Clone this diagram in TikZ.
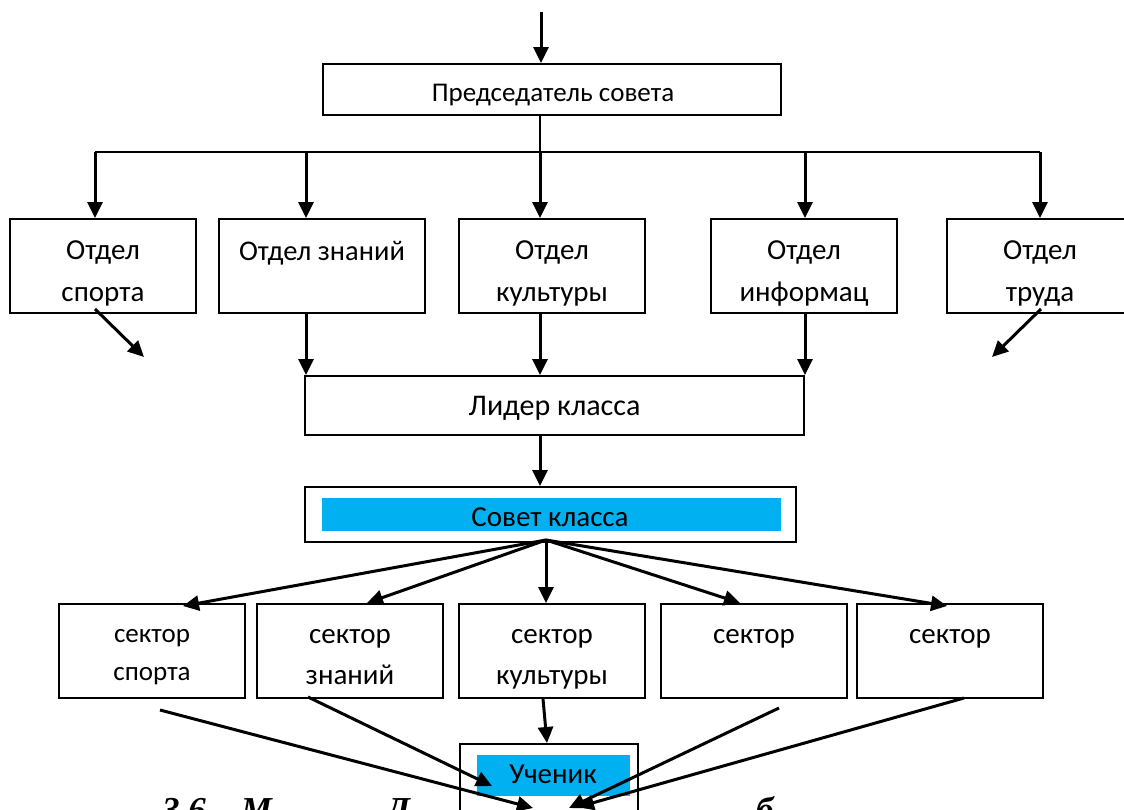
\documentclass[tikz,border=0pt]{standalone}
\usepackage{fontspec}
\setmainfont{Carlito}
\newfontfamily\capfont{Liberation Serif}
\usetikzlibrary{arrows.meta}
\definecolor{skyblue}{HTML}{00B0F0}
\tikzset{
  box/.style={draw, line width=2pt, fill=white, inner sep=0pt},
  fillbox/.style={fill=skyblue, inner sep=0pt},
  txt/.style={inner sep=0pt, anchor=base, font=\fontsize{29}{34}\selectfont},
  arr/.style={line width=3pt, arrows={-Triangle[length=16pt,width=15pt]}},
  link/.style={line width=2.8pt},
  captxt/.style={inner sep=0pt, anchor=base west, font=\capfont\bfseries\itshape\fontsize{35}{40}\selectfont}
}

\begin{document}
\begin{tikzpicture}[x=1pt,y=-1pt]
        \useasboundingbox (0,0) rectangle (1124,809);
        \clip (0,0) rectangle (1124,809);
        % Caption (only its top shows)
        \node[captxt] (capA) at (162,821) {3.6 – М};
        \node[captxt] (capB) at (386,821) {Д};
        \node[captxt] (capC) at (756,821) {б};
        % Chairman
        \node[box, minimum width=458, minimum height=51] (chair) at (552,89.5) {};
        \node[txt, font=\fontsize{27}{32}\selectfont] (chairT) at (553,101) {Председатель совета};
        \coordinate (topIn) at (541,12);
        \draw[arr] (topIn) -- (topIn |- chair.north);
        % Bus to the departments
        \coordinate (busL) at (95,152);
        \coordinate (dropZ) at (306,152);
        \coordinate (busM) at (540,152);
        \coordinate (dropI) at (805,152);
        \coordinate (busR) at (1040,152);
        \draw[link] (chair.south -| busM) -- (busM);
        \draw[link] (busL) -- (busR);
        % Departments
        \node[box, minimum width=186, minimum height=94] (sport) at (103,266) {};
        \node[box, minimum width=206, minimum height=94] (znan) at (322,266) {};
        \node[box, minimum width=186, minimum height=94] (kult) at (552,266) {};
        \node[box, minimum width=186, minimum height=94] (info) at (804,266) {};
        \node[box, minimum width=186, minimum height=94] (trud) at (1040,266) {};
        \node[txt] (sportA) at (103,259) {Отдел};
        \node[txt] (sportB) at (103,301) {спорта};
        \node[txt, font=\fontsize{28.5}{32}\selectfont] (znanA) at (322,260) {Отдел знаний};
        \node[txt] (kultA) at (552,259) {Отдел};
        \node[txt] (kultB) at (552,301) {культуры};
        \node[txt] (infoA) at (804,259) {Отдел};
        \node[txt] (infoB) at (804,301) {информац};
        \node[txt] (trudA) at (1040,259) {Отдел};
        \node[txt] (trudB) at (1040,301) {труда};
        \draw[arr] (busL) -- (busL |- sport.north);
        \draw[arr] (dropZ) -- (dropZ |- znan.north);
        \draw[arr] (busM) -- (busM |- kult.north);
        \draw[arr] (dropI) -- (dropI |- info.north);
        \draw[arr] (busR) -- (busR |- trud.north);
        % Loose arrows
        \coordinate (sportOut) at (144,357);
        \coordinate (trudOut) at (992,357);
        \draw[arr] ([xshift=-8pt,yshift=5pt]sport.south) -- (sportOut);
        \draw[arr] ([xshift=1pt,yshift=5pt]trud.south) -- (trudOut);
        % Class leader
        \node[box, minimum width=499, minimum height=59] (lider) at (554.5,405.5) {};
        \node[txt, font=\fontsize{30}{34}\selectfont] (liderT) at (554.5,415) {Лидер класса};
        \draw[arr] (znan.south -| dropZ) -- (dropZ |- lider.north);
        \draw[arr] (kult.south -| busM) -- (busM |- lider.north);
        \draw[arr] (info.south -| dropI) -- (dropI |- lider.north);
        % Class council
        \node[box, minimum width=491, minimum height=55] (sovet) at (550.5,514.5) {};
        \node[fillbox, minimum width=459, minimum height=33] (sovetFill) at (551.5,514.5) {};
        \node[txt] (sovetT) at (550,526) {Совет класса};
        \draw[arr] (lider.south -| busM) -- (busM |- sovet.north);
        % Sectors
        \coordinate (fan) at (546,540);
        \node[box, minimum width=186, minimum height=94] (secA) at (152,651) {};
        \node[box, minimum width=186, minimum height=94] (secB) at (350,651) {};
        \node[box, minimum width=186, minimum height=94] (secC) at (552,651) {};
        \node[box, minimum width=186, minimum height=94] (secD) at (754,651) {};
        \node[box, minimum width=186, minimum height=94] (secE) at (950,651) {};
        \node[txt, font=\fontsize{27}{32}\selectfont] (secAa) at (152,642) {сектор};
        \node[txt, font=\fontsize{27}{32}\selectfont] (secAb) at (152,680) {спорта};
        \node[txt] (secBa) at (350,643) {сектор};
        \node[txt] (secBb) at (350,684) {знаний};
        \node[txt] (secCa) at (552,643) {сектор};
        \node[txt] (secCb) at (552,684) {культуры};
        \node[txt] (secDa) at (754,643) {сектор};
        \node[txt] (secEa) at (950,643) {сектор};
        \draw[arr] (fan) -- ([xshift=31pt,yshift=-3pt]secA.north);
        \draw[arr] (fan) -- ([xshift=17pt]secB.north);
        \draw[arr] (fan) -- ([xshift=-6pt]secC.north);
        \draw[arr] (fan) -- ([xshift=-14pt]secD.north);
        \draw[arr] (fan) -- ([xshift=-3pt,yshift=-3pt]secE.north);
        % Pupil
        \node[box, minimum width=178, minimum height=90] (uchen) at (549,789) {};
        \node[fillbox, minimum width=153, minimum height=41] (uchenFill) at (553.5,775.5) {};
        \node[txt] (uchenT) at (553,783) {Ученик};
        \coordinate (inA) at (533,808);
        \coordinate (inB) at (492,786);
        \coordinate (inD) at (569,808);
        \coordinate (inE) at (578,807);
        \draw[arr] ([xshift=-9pt]secC.south) -- ([xshift=-2pt]uchen.north);
        \draw[arr] ([xshift=8pt,yshift=-11pt]secA.south) -- (inA);
        \draw[arr] ([xshift=-42pt,yshift=2pt]secB.south) -- (inB);
        \draw[arr] ([xshift=25pt,yshift=-9pt]secD.south) -- (inD);
        \draw[arr] ([xshift=14pt,yshift=1pt]secE.south) -- (inE);
      \end{tikzpicture}
\end{document}
